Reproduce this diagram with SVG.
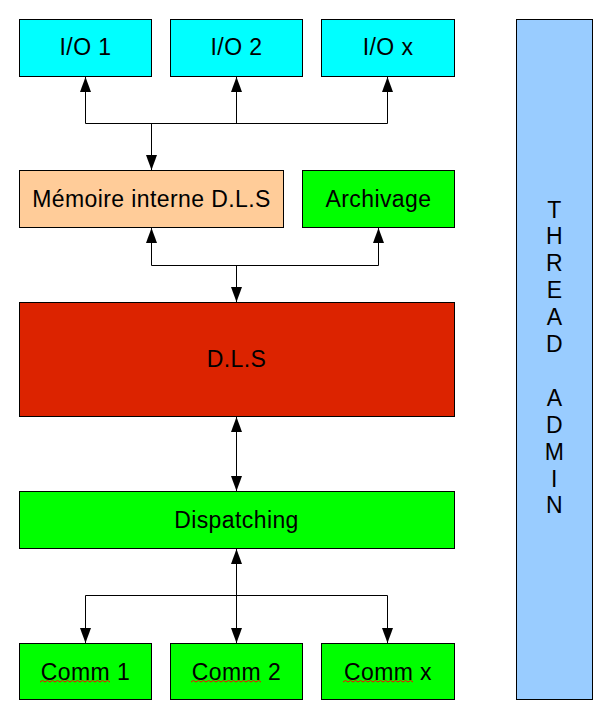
<svg xmlns="http://www.w3.org/2000/svg" width="605" height="718" viewBox="0 0 605 718">
<style>
.n{stroke:#000;stroke-width:1}
text{font-family:"Liberation Sans",Arial,sans-serif;font-size:23px;fill:#000;text-anchor:middle;letter-spacing:0.4px}
.c{fill:#00ffff}.g{fill:#00ff00}.p{fill:#ffcc99}.r{fill:#dc2300}.b{fill:#99ccff}
.w{fill:none;stroke:#ff0000;stroke-width:1}
#connectors path{fill:none;stroke:#000;stroke-width:1}
</style>
<defs>
<marker id="ah" markerUnits="userSpaceOnUse" markerWidth="15" markerHeight="11" refX="15" refY="5.5" orient="auto-start-reverse" viewBox="0 0 15 11">
<path d="M0,0 L15,5.5 L0,11 z" fill="#000"/>
</marker>
</defs>
<rect width="605" height="718" fill="#fff"/>
<g id="connectors">
<path d="M85.5,77 V123.5 H387.5 V77" marker-start="url(#ah)" marker-end="url(#ah)"/>
<path d="M236.5,123.5 V77" marker-end="url(#ah)"/>
<path d="M151.5,123.5 V170" marker-end="url(#ah)"/>
<path d="M151.5,228 V265.5 H378.5 V228" marker-start="url(#ah)" marker-end="url(#ah)"/>
<path d="M236.5,265.5 V302" marker-end="url(#ah)"/>
<path d="M236.5,417 V491" marker-start="url(#ah)" marker-end="url(#ah)"/>
<path d="M236.5,549 V643" marker-start="url(#ah)" marker-end="url(#ah)"/>
<path d="M85.5,643 V595.5 H387.5 V643" marker-start="url(#ah)" marker-end="url(#ah)"/>
</g>
<g id="io1"><rect class="n c" x="19.5" y="19.5" width="132" height="57"/><text x="85.5" y="54.5">I/O 1</text></g>
<g id="io2"><rect class="n c" x="170.5" y="19.5" width="132" height="57"/><text x="236.5" y="54.5">I/O 2</text></g>
<g id="iox"><rect class="n c" x="321.5" y="19.5" width="133" height="57"/><text x="388" y="54.5">I/O x</text></g>
<g id="memoire"><rect class="n p" x="19.5" y="170.5" width="264" height="57"/><text x="151.5" y="206.5">Mémoire interne D.L.S</text></g>
<g id="archivage"><rect class="n g" x="302.5" y="170.5" width="152" height="57"/><text x="378.5" y="206.5">Archivage</text></g>
<g id="dls"><rect class="n r" x="19.5" y="302.5" width="435" height="114"/><text x="236.5" y="366.5">D.L.S</text></g>
<g id="dispatching"><rect class="n g" x="19.5" y="491.5" width="435" height="57"/><text x="236.5" y="527.5">Dispatching</text></g>
<g id="comm1"><rect class="n g" x="19.5" y="643.5" width="132" height="56"/><text x="85.5" y="679.5">Comm 1</text>
<path class="w" d="M40,682 l2.5,-1.5 2.5,1.5 2.5,-1.5 2.5,1.5 2.5,-1.5 2.5,1.5 2.5,-1.5 2.5,1.5 2.5,-1.5 2.5,1.5 2.5,-1.5 2.5,1.5 2.5,-1.5 2.5,1.5 2.5,-1.5 2.5,1.5 2.5,-1.5 2.5,1.5 2.5,-1.5 2.5,1.5 2.5,-1.5 2.5,1.5 2.5,-1.5 2.5,1.5 2.5,-1.5 2.5,1.5 2.5,-1.5 2.5,1.5"/></g>
<g id="comm2"><rect class="n g" x="170.5" y="643.5" width="132" height="56"/><text x="236.5" y="679.5">Comm 2</text>
<path class="w" d="M191,682 l2.5,-1.5 2.5,1.5 2.5,-1.5 2.5,1.5 2.5,-1.5 2.5,1.5 2.5,-1.5 2.5,1.5 2.5,-1.5 2.5,1.5 2.5,-1.5 2.5,1.5 2.5,-1.5 2.5,1.5 2.5,-1.5 2.5,1.5 2.5,-1.5 2.5,1.5 2.5,-1.5 2.5,1.5 2.5,-1.5 2.5,1.5 2.5,-1.5 2.5,1.5 2.5,-1.5 2.5,1.5 2.5,-1.5 2.5,1.5"/></g>
<g id="commx"><rect class="n g" x="321.5" y="643.5" width="133" height="56"/><text x="388" y="679.5">Comm x</text>
<path class="w" d="M343,682 l2.5,-1.5 2.5,1.5 2.5,-1.5 2.5,1.5 2.5,-1.5 2.5,1.5 2.5,-1.5 2.5,1.5 2.5,-1.5 2.5,1.5 2.5,-1.5 2.5,1.5 2.5,-1.5 2.5,1.5 2.5,-1.5 2.5,1.5 2.5,-1.5 2.5,1.5 2.5,-1.5 2.5,1.5 2.5,-1.5 2.5,1.5 2.5,-1.5 2.5,1.5 2.5,-1.5 2.5,1.5 2.5,-1.5 2.5,1.5"/></g>
<g id="thread-admin"><rect class="n b" x="516.5" y="19.5" width="76" height="680"/>
<text x="554.5" y="217.5">T</text>
<text x="554.5" y="244.4">H</text>
<text x="554.5" y="271.3">R</text>
<text x="554.5" y="298.2">E</text>
<text x="554.5" y="325.1">A</text>
<text x="554.5" y="352">D</text>
<text x="554.5" y="405.8">A</text>
<text x="554.5" y="432.7">D</text>
<text x="554.5" y="459.6">M</text>
<text x="554.5" y="486.5">I</text>
<text x="554.5" y="513.4">N</text>
</g>
</svg>
